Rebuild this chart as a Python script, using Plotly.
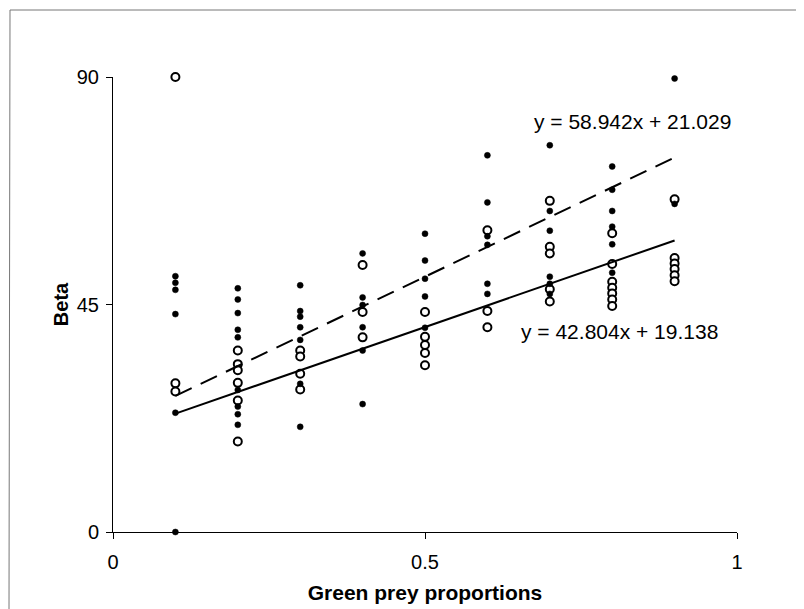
import plotly.graph_objects as go

# ---- data ----
x_levels = [0.1, 0.2, 0.3, 0.4, 0.5, 0.6, 0.7, 0.8, 0.9]

filled_beta = [
    [50.6, 49.3, 47.9, 43.1, 23.6, 0.0],
    [48.2, 46.0, 43.3, 40.0, 38.5, 28.1, 24.8, 23.3, 21.2],
    [48.8, 43.7, 42.6, 40.5, 38.0, 29.3, 20.8],
    [55.1, 46.4, 44.9, 40.5, 35.9, 25.3],
    [59.0, 53.7, 50.1, 46.6, 40.4],
    [74.5, 65.2, 58.5, 56.8, 49.1, 47.1],
    [76.5, 63.5, 59.6, 50.5, 49.1, 47.1],
    [72.3, 67.7, 63.5, 60.4, 56.9, 51.3],
    [89.7, 64.9],
]

open_beta = [
    [90.0, 29.4, 27.8],
    [35.9, 33.2, 32.0, 29.5, 26.0, 17.9],
    [35.9, 34.7, 31.3, 28.2],
    [52.8, 43.5, 38.5],
    [43.5, 38.6, 37.0, 35.4, 33.0],
    [59.7, 43.7, 40.5],
    [65.5, 56.4, 55.1, 48.0, 45.6],
    [59.1, 53.0, 49.5, 48.3, 47.2, 46.0, 44.7],
    [65.8, 54.2, 53.1, 52.0, 50.8, 49.6],
]

filled_fit = {"slope": 58.942, "intercept": 21.029}
open_fit = {"slope": 42.804, "intercept": 19.138}

x_ticks = [0, 0.5, 1]
x_tick_labels = ["0", "0.5", "1"]
y_ticks = [0, 45, 90]
y_tick_labels = ["0", "45", "90"]

# ---- build ----
def flatten(groups):
    xs, ys = [], []
    for xv, vals in zip(x_levels, groups):
        for v in vals:
            xs.append(xv)
            ys.append(v)
    return xs, ys

fx, fy = flatten(filled_beta)
ox, oy = flatten(open_beta)

x_fit = [min(x_levels), max(x_levels)]

def line(fit):
    return [fit["slope"] * v + fit["intercept"] for v in x_fit]

def eq_text(fit):
    return "y = %.3fx + %.3f" % (fit["slope"], fit["intercept"])

fig = go.Figure()

fig.add_trace(go.Scatter(
    x=ox, y=oy, mode="markers", cliponaxis=False,
    marker=dict(symbol="circle", size=8, color="white",
                line=dict(color="black", width=2)),
    showlegend=False))

fig.add_trace(go.Scatter(
    x=fx, y=fy, mode="markers", cliponaxis=False,
    marker=dict(symbol="circle", size=6, color="black",
                line=dict(color="black", width=0.5)),
    showlegend=False))

fig.add_trace(go.Scatter(
    x=x_fit, y=line(filled_fit), mode="lines",
    line=dict(color="black", width=2, dash="18px,10px"),
    showlegend=False))

fig.add_trace(go.Scatter(
    x=x_fit, y=line(open_fit), mode="lines",
    line=dict(color="black", width=2),
    showlegend=False))

# page body has an 8px margin, so the figure is offset by 8px
OFF = 8
W, H = 804 - OFF, 609 - OFF
L, R, T, B = 113 - OFF, 737 - OFF, 77 - OFF, 532 - OFF

def px(xp):
    return (xp - OFF - L) / (R - L)

def py(yp):
    return (B - (yp - OFF)) / (B - T)

font_family = "Liberation Sans, Arial, sans-serif"

fig.update_layout(
    width=W, height=H,
    margin=dict(l=L, r=W - R, t=T, b=H - B, autoexpand=False),
    paper_bgcolor="white", plot_bgcolor="white",
    font=dict(family=font_family, size=20, color="black"),
    xaxis=dict(range=[0, 1], tickvals=x_ticks, ticktext=x_tick_labels,
               showgrid=False, zeroline=False, showline=True,
               linecolor="black", linewidth=1, ticks="outside",
               ticklen=6, tickcolor="black", ticklabelstandoff=6,
               automargin=False,
               title=dict(text="<b>Green prey proportions</b>",
                          font=dict(size=21), standoff=13)),
    yaxis=dict(range=[0, 90], tickvals=y_ticks, ticktext=y_tick_labels,
               showgrid=False, zeroline=False, showline=True,
               linecolor="black", linewidth=1, ticks="outside",
               ticklen=6, tickcolor="black", ticklabelstandoff=3,
               automargin=False,
               title=dict(text="<b>Beta</b>", font=dict(size=20),
                          standoff=2)),
    annotations=[
        dict(xref="paper", yref="paper", x=px(632), y=py(121),
             xanchor="center", yanchor="middle",
             text=eq_text(filled_fit), showarrow=False,
             font=dict(size=21)),
        dict(xref="paper", yref="paper", x=px(619), y=py(331),
             xanchor="center", yanchor="middle",
             text=eq_text(open_fit), showarrow=False,
             font=dict(size=21)),
    ],
    shapes=[
        dict(type="line", xref="paper", yref="paper",
             x0=px(10), y0=py(10), x1=px(802), y1=py(10),
             line=dict(color="#777777", width=1)),
        dict(type="line", xref="paper", yref="paper",
             x0=px(10), y0=py(10), x1=px(9), y1=py(609),
             line=dict(color="#777777", width=1)),
        dict(type="line", xref="paper", yref="paper",
             x0=px(802), y0=py(10), x1=px(802), y1=py(609),
             line=dict(color="#777777", width=1)),
    ],
)

fig.write_html("out.html")
